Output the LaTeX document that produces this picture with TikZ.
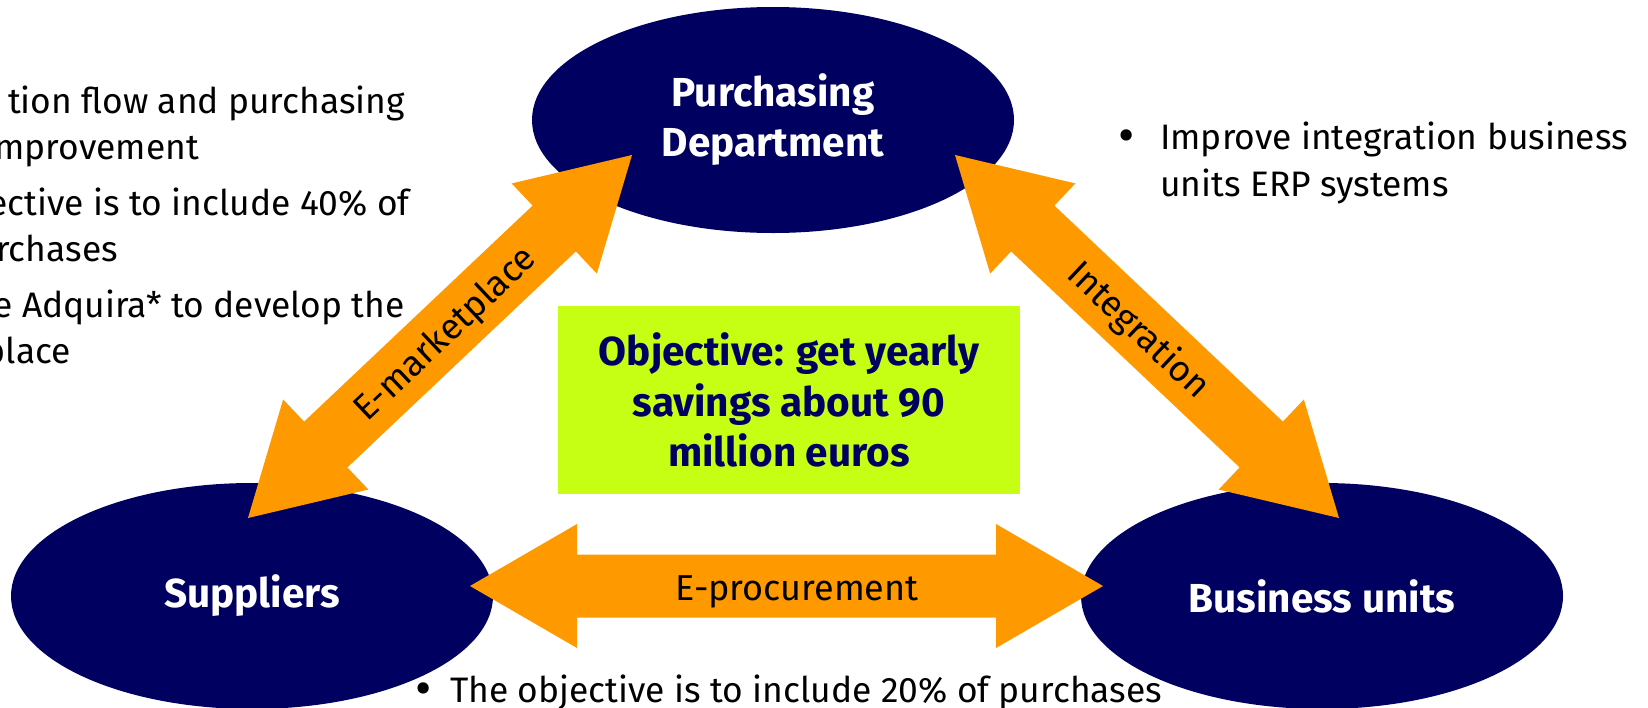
\documentclass[tikz,border=0pt]{standalone}
\usepackage{fontspec}
\setmainfont{Fira Sans}
\usetikzlibrary{shapes.geometric,calc}
\definecolor{navy}{RGB}{0,0,96}
\definecolor{amber}{RGB}{255,153,0}
\definecolor{lime}{RGB}{198,255,20}

% double-headed block arrow between two named tips
\newcommand\twowayarrow[2]{%
  \coordinate (#1-h) at ($(#1)!107pt!(#2)$);
  \coordinate (#2-h) at ($(#2)!107pt!(#1)$);
  \fill[amber] (#1) -- ($(#1-h)!62pt!90:(#2)$) -- ($(#1-h)!31.5pt!90:(#2)$)
    -- ($(#2-h)!31.5pt!-90:(#1)$) -- ($(#2-h)!62pt!-90:(#1)$) -- (#2)
    -- ($(#2-h)!62pt!90:(#1)$) -- ($(#2-h)!31.5pt!90:(#1)$)
    -- ($(#1-h)!31.5pt!-90:(#2)$) -- ($(#1-h)!62pt!-90:(#2)$) -- cycle;}

\begin{document}
\begin{tikzpicture}[x=1pt,y=-1pt,
  party/.style={ellipse, fill=navy, text=white, inner sep=0pt,
    minimum width=482pt, minimum height=226pt, align=center,
    font=\fontsize{40.5}{50}\selectfont\bfseries},
  body/.style={inner sep=0pt, text=black, font=\fontsize{35.4}{46}\selectfont},
  bulletmark/.style={inner sep=0pt, text=black, font=\fontsize{50}{50}\selectfont},
  flowlabel/.style={inner sep=0pt, text=black, font=\fontsize{36}{40}\selectfont},
  goalbox/.style={rectangle, fill=lime, text=navy, inner sep=0pt,
    minimum width=462pt, minimum height=188pt, align=center,
    font=\fontsize{40.5}{50.5}\selectfont\bfseries}]
\useasboundingbox (0,0) rectangle (1648,707);

% the three parties
\node[party] (pd) at (773,120) {Purchasing\\Department};
\node[party] (sup) at (252,596) {Suppliers};
\node[party] (bu) at (1322,596) {Business units};

% central objective
\node[goalbox] (goal) at (789,400) {Objective: get yearly\\savings about 90\\million euros};

% arrow tips
\coordinate (mkA) at (632,155);
\coordinate (mkB) at (248,518);
\coordinate (inA) at (955,155);
\coordinate (inB) at (1339,518);
\coordinate (prA) at (470,586);
\coordinate (prB) at (1103,586);

\twowayarrow{mkA}{mkB}
\twowayarrow{inA}{inB}
\twowayarrow{prA}{prB}

% flow labels
\node[flowlabel, rotate=43.4] (lmk) at (446,335) {E-marketplace};
\node[flowlabel, rotate=-43.4] (lin) at (1138,331) {Integration};
\node[flowlabel, anchor=base] (lpr) at (797,600) {E-procurement};

% notes on the left
\node[body, anchor=base east] (l1) at (405,113) {tion flow and purchasing};
\node[body, anchor=base east] (l2) at (199,159) {mprovement};
\node[body, anchor=base east] (l3) at (410,215) {ective is to include 40\% of};
\node[body, anchor=base east] (l4) at (118,261) {rchases};
\node[body, anchor=base east] (l5) at (405,317) {e Adquira* to develop the};
\node[body, anchor=base east] (l6) at (71,363) {place};

% notes on the right
\node[bulletmark, anchor=base] (rb) at (1127,152) {•};
\node[body, anchor=base west] (r1) at (1160,149) {Improve integration business};
\node[body, anchor=base west] (r2) at (1160,196) {units ERP systems};

% note at the bottom
\node[bulletmark, anchor=base] (bb) at (424,705) {•};
\node[body, anchor=base west] (b1) at (450,702) {The objective is to include 20\% of purchases};
\end{tikzpicture}
\end{document}
